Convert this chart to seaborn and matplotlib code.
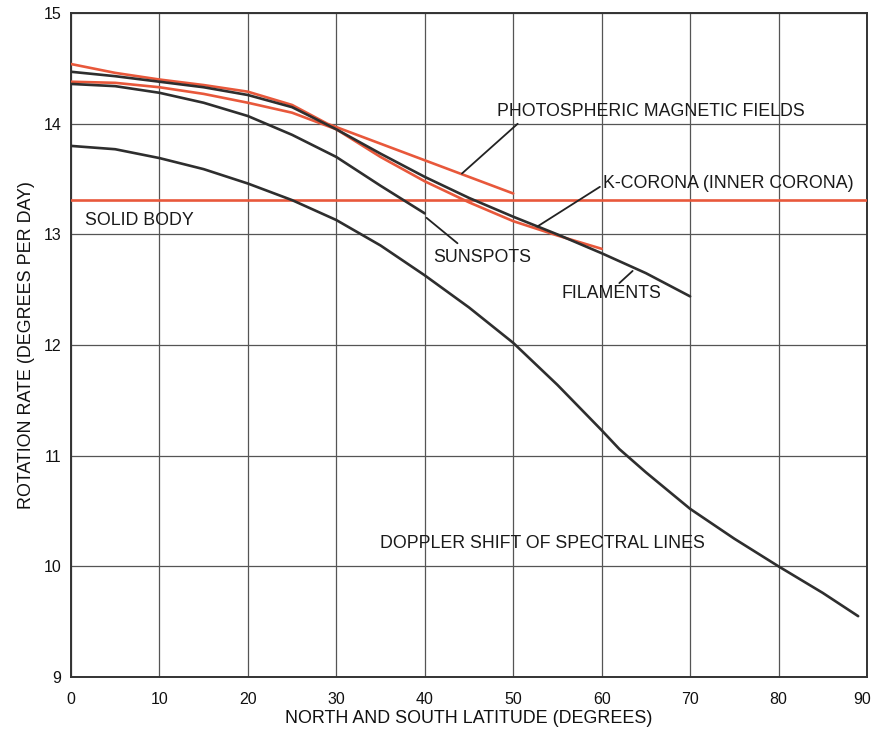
import matplotlib
matplotlib.use("Agg")
import matplotlib.pyplot as plt
import matplotlib.transforms as mtransforms
import seaborn as sns
import pandas as pd

# Solar rotation rate versus latitude for several tracers
lat_photo = [0, 5, 10, 15, 20, 25, 29, 50]
rate_photo = [14.54, 14.46, 14.40, 14.35, 14.29, 14.17, 14.00, 13.37]

lat_fil = [0, 5, 10, 15, 20, 25, 30, 35, 40, 45, 50, 55, 60, 65, 70]
rate_fil = [14.47, 14.43, 14.38, 14.33, 14.26, 14.15, 13.95, 13.73, 13.52,
            13.33, 13.16, 13.00, 12.83, 12.65, 12.44]

lat_kcor = [0, 5, 10, 15, 20, 25, 30, 35, 40, 45, 50, 55, 60]
rate_kcor = [14.38, 14.37, 14.33, 14.27, 14.19, 14.10, 13.95, 13.70, 13.48,
             13.29, 13.12, 12.99, 12.87]

lat_spot = [0, 5, 10, 15, 20, 25, 30, 35, 40]
rate_spot = [14.36, 14.34, 14.28, 14.19, 14.07, 13.90, 13.70, 13.44, 13.19]

lat_dopp = [0, 5, 10, 15, 20, 25, 30, 35, 40, 45, 50, 55, 60, 62, 65, 70,
            75, 80, 85, 89]
rate_dopp = [13.80, 13.77, 13.69, 13.59, 13.46, 13.31, 13.13, 12.90, 12.63,
             12.34, 12.02, 11.64, 11.23, 11.06, 10.85, 10.52, 10.25, 10.00,
             9.76, 9.55]

lat_solid = [0, 90]
rate_solid = [13.31, 13.31]

x_ticks = [0, 10, 20, 30, 40, 50, 60, 70, 80, 90]
y_ticks = [9, 10, 11, 12, 13, 14, 15]

RED = "#e8583b"
DARK = "#2e2e2e"

sns.set_theme(style="white")
plt.rcParams["font.family"] = ["Liberation Sans", "DejaVu Sans"]

fig = plt.figure(figsize=(8.74, 7.29), dpi=100)
ax = fig.add_axes([0.0812, 0.0713, 0.9108, 0.9107])

series = [
    (lat_solid, rate_solid, RED),
    (lat_photo, rate_photo, RED),
    (lat_kcor, rate_kcor, RED),
    (lat_fil, rate_fil, DARK),
    (lat_spot, rate_spot, DARK),
    (lat_dopp, rate_dopp, DARK),
]
for lat, rate, col in series:
    df = pd.DataFrame({"lat": lat, "rate": rate})
    sns.lineplot(data=df, x="lat", y="rate", color=col, lw=1.9, ax=ax,
                 sort=False, estimator=None, zorder=3)

ax.set_xlim(0, 90)
ax.set_ylim(9, 15)
ax.set_xticks(x_ticks)
ax.set_yticks(y_ticks)
ax.set_xticklabels([str(t) for t in x_ticks], fontsize=11.5)
ax.set_yticklabels([str(t) for t in y_ticks], fontsize=11.5)
ax.tick_params(axis="x", length=0, pad=11, colors="#111111")
ax.tick_params(axis="y", length=0, pad=7, colors="#111111")
# keep the last latitude label inside the canvas
last = ax.get_xticklabels()[-1]
last.set_transform(last.get_transform() +
                   mtransforms.ScaledTranslation(-5 / 100, 0, fig.dpi_scale_trans))
ax.grid(True, color="#555555", lw=0.9)
ax.set_axisbelow(True)
for s in ax.spines.values():
    s.set_color("#333333")
    s.set_linewidth(1.4)

ax.set_xlabel("NORTH AND SOUTH LATITUDE (DEGREES)", fontsize=12.9,
              color="#111111", labelpad=2)
ax.set_ylabel("ROTATION RATE (DEGREES PER DAY)", fontsize=12.9,
              color="#111111", labelpad=6)

# curve labels with leader lines
labels = [
    ("PHOTOSPHERIC MAGNETIC FIELDS", 48.2, 14.11, (50.5, 14.00), (44.2, 13.55)),
    ("K-CORONA (INNER CORONA)", 60.1, 13.46, (59.8, 13.43), (52.7, 13.07)),
    ("SUNSPOTS", 40.9, 12.79, (40.2, 13.15), (43.7, 12.92)),
    ("FILAMENTS", 55.5, 12.47, (62.0, 12.56), (63.5, 12.67)),
    ("SOLID BODY", 1.6, 13.13, None, None),
    ("DOPPLER SHIFT OF SPECTRAL LINES", 34.9, 10.21, None, None),
]
for text, tx, ty, p0, p1 in labels:
    ax.text(tx, ty, text, fontsize=12.8, color="#1a1a1a", ha="left",
            va="center", zorder=5)
    if p0 is not None:
        ax.plot([p0[0], p1[0]], [p0[1], p1[1]], color="#222222", lw=1.3,
                zorder=4)

fig.savefig("out.png", dpi=100, facecolor="white")
